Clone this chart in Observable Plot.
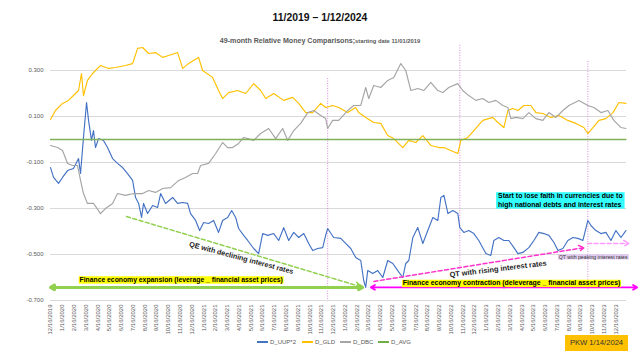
<!DOCTYPE html>
<html><head><meta charset="utf-8">
<script src="https://cdn.jsdelivr.net/npm/d3@7"></script>
<script src="https://cdn.jsdelivr.net/npm/@observablehq/plot@0.6"></script>
<style>
html,body{margin:0;padding:0;background:#fff;}
#wrap{position:relative;width:640px;height:360px;overflow:hidden;background:#fff;font-family:"Liberation Sans",Arial,sans-serif;}
#chart svg{position:absolute;left:0;top:0;}
.t{position:absolute;white-space:nowrap;line-height:1;}
#title{left:0;width:640px;text-align:center;top:13px;font-weight:bold;font-size:10.4px;color:#111;}
#sub{left:0;width:640px;text-align:center;top:30px;color:#595959;}
#sub b{font-size:7.1px;}
#sub span{font-size:5.8px;font-weight:bold;}
.lg{position:absolute;top:338px;font-size:6px;line-height:8px;color:#595959;}
.lg i{display:inline-block;width:11px;height:1.5px;vertical-align:middle;margin-right:2px;margin-top:-1px;}
#pkw{left:565px;top:335px;width:63px;height:16px;background:#ffc000;font-size:7.6px;line-height:16px;text-align:center;color:#333;}
</style></head><body>
<div id="wrap">
  <div id="chart"></div>
  <div class="t" id="title">11/2019 – 1/12/2024</div>
  <div class="t" id="sub"><b>49-month Relative Money Comparisons;</b><span>starting date 11/01/2019</span></div>
  <div class="lg" style="left:257px"><i style="background:#4472c4"></i>D_UUP*2</div>
  <div class="lg" style="left:302px"><i style="background:#ffc000"></i>D_GLD</div>
  <div class="lg" style="left:340px"><i style="background:#a5a5a5"></i>D_DBC</div>
  <div class="lg" style="left:378px"><i style="background:#70ad47"></i>D_AVG</div>
  <div class="t" id="pkw">PKW 1/14/2024</div>
</div>
<script>
// x positions are months since 12/16/2019 (category axis with monthly labels)
const tickLabels = ["12/16/2019",
 "1/16/2020","2/16/2020","3/16/2020","4/16/2020","5/16/2020","6/16/2020","7/16/2020","8/16/2020","9/16/2020","10/16/2020","11/16/2020","12/16/2020",
 "1/16/2021","2/16/2021","3/16/2021","4/16/2021","5/16/2021","6/16/2021","7/16/2021","8/16/2021","9/16/2021","10/16/2021","11/16/2021","12/16/2021",
 "1/16/2022","2/16/2022","3/16/2022","4/16/2022","5/16/2022","6/16/2022","7/16/2022","8/16/2022","9/16/2022","10/16/2022","11/16/2022","12/16/2022",
 "1/16/2023","2/16/2023","3/16/2023","4/16/2023","5/16/2023","6/16/2023","7/16/2023","8/16/2023","9/16/2023","10/16/2023","11/16/2023","12/16/2023"];
const yTicks = [-0.7, -0.5, -0.3, -0.1, 0.1, 0.3];

const uupM = [0,0.26,0.68,1.02,1.45,1.95,2.38,2.55,2.8,3.06,
 3.23,3.48,3.65,3.82,4.08,4.5,4.84,5.27,5.69,6.12,
 6.54,6.97,7.22,7.48,7.73,7.9,8.24,8.67,9.09,9.35,
 9.77,10.37,10.79,11.22,11.64,11.89,12.32,12.66,13,13.42,
 13.85,14.27,14.61,15.04,15.38,15.72,15.97,16.4,16.74,17.25,
 17.67,18.01,18.44,18.95,19.37,19.8,20.22,20.65,21.07,21.5,
 21.92,22.26,22.68,23.11,23.36,23.53,24.04,24.64,25.06,25.49,
 25.91,26.34,26.59,26.76,26.93,27.36,27.78,28.21,28.63,29.06,
 29.48,29.91,30.16,30.42,30.76,31.18,31.61,32.03,32.46,32.88,
 33.14,33.4,33.74,34.16,34.58,34.75,35.09,35.51,35.94,36.36,
 36.96,37.38,37.64,38.06,38.49,38.91,39.34,39.68,40.1,40.61,
 41.04,41.46,41.89,42.31,42.74,43.08,43.5,43.92,44.35,44.77,
 45.2,45.62,45.88,46.3,46.73,47.15,47.58,48,48.43,48.85];
const uupV = [-0.122,-0.165,-0.191,-0.165,-0.135,-0.126,-0.083,-0.148,0.009,0.161,
 0.083,-0.004,0.039,-0.035,0.004,-0.004,-0.035,-0.083,-0.104,-0.122,
 -0.148,-0.178,-0.252,-0.278,-0.339,-0.278,-0.322,-0.287,-0.296,-0.235,
 -0.278,-0.252,-0.278,-0.274,-0.278,-0.322,-0.352,-0.396,-0.361,-0.365,
 -0.352,-0.404,-0.352,-0.339,-0.309,-0.339,-0.387,-0.417,-0.439,-0.474,
 -0.496,-0.409,-0.417,-0.409,-0.439,-0.383,-0.439,-0.404,-0.426,-0.409,
 -0.452,-0.483,-0.474,-0.470,-0.417,-0.387,-0.426,-0.430,-0.452,-0.474,
 -0.513,-0.526,-0.613,-0.643,-0.570,-0.583,-0.570,-0.600,-0.526,-0.539,
 -0.570,-0.600,-0.539,-0.526,-0.426,-0.383,-0.452,-0.396,-0.339,-0.352,
 -0.252,-0.243,-0.322,-0.309,-0.322,-0.383,-0.404,-0.396,-0.409,-0.439,
 -0.496,-0.504,-0.439,-0.426,-0.439,-0.439,-0.470,-0.496,-0.491,-0.470,
 -0.439,-0.404,-0.409,-0.417,-0.448,-0.483,-0.474,-0.439,-0.426,-0.430,
 -0.439,-0.352,-0.374,-0.396,-0.409,-0.404,-0.439,-0.396,-0.426,-0.396];

const gldM = [0,0.42,1.02,1.53,2.12,2.38,2.63,2.8,3.14,3.57,
 4.25,4.93,5.52,6.37,6.97,7.39,7.82,8.33,8.92,9.52,
 10.03,10.79,11.22,11.72,12.57,12.91,13.76,14.27,14.61,15.12,
 15.89,16.57,17.25,17.84,18.27,18.95,19.8,20.56,21.07,21.67,
 22.26,22.94,23.36,23.96,24.47,25.23,25.91,26.17,26.76,27.44,
 28.04,28.63,29.14,29.91,30.42,31.01,31.61,32.29,32.97,33.4,
 33.98,34.58,34.83,35.43,35.94,36.7,37.55,37.98,38.49,38.83,
 39.25,39.68,40.19,40.78,41.21,41.8,42.48,43.16,43.92,44.6,
 45.28,45.62,46.05,46.56,47.15,47.75,48.26,48.85];
const gldV = [0.087,0.126,0.157,0.170,0.200,0.213,0.287,0.191,0.257,0.287,
 0.322,0.309,0.313,0.322,0.330,0.396,0.400,0.374,0.378,0.357,
 0.365,0.378,0.309,0.330,0.357,0.300,0.270,0.213,0.178,0.204,
 0.213,0.200,0.243,0.213,0.178,0.200,0.170,0.183,0.157,0.117,
 0.117,0.157,0.139,0.148,0.139,0.117,0.139,0.117,0.096,0.074,
 0.070,0.017,0.004,-0.035,-0.004,-0.013,0.017,-0.026,-0.035,-0.035,
 -0.048,-0.061,-0.004,0.009,0.039,0.083,0.096,0.074,0.052,0.126,
 0.135,0.126,0.148,0.148,0.117,0.113,0.096,0.104,0.083,0.070,
 0.052,0.026,0.052,0.083,0.091,0.117,0.161,0.157];

const dbcM = [0,0.6,1.02,1.45,1.87,2.29,2.55,2.8,3.14,3.65,
 4.25,4.67,5.27,5.69,6.37,7.05,7.82,8.33,8.92,9.52,
 10.2,10.88,11.47,12.06,12.49,12.74,13.42,14.02,14.61,15.04,
 15.46,15.97,16.4,16.74,17.25,17.84,18.52,19.12,19.71,20.14,
 20.65,21.24,21.84,22.35,22.94,23.36,23.53,23.96,24.47,25.23,
 25.74,26.34,26.76,27.02,27.44,28.04,28.63,29.14,29.74,30.16,
 30.59,31.18,31.69,32.29,32.88,33.31,33.81,34.58,35,35.51,
 36.11,36.7,37.21,37.81,38.4,38.83,39.08,39.51,40.1,40.61,
 41.21,41.8,42.31,42.91,43.5,44.01,44.86,45.62,46.13,46.73,
 47.32,47.83,48.43,48.85];
const dbcV = [-0.026,-0.035,-0.048,-0.104,-0.113,-0.113,-0.178,-0.235,-0.278,-0.278,
 -0.322,-0.300,-0.278,-0.235,-0.243,-0.235,-0.235,-0.222,-0.230,-0.213,
 -0.209,-0.178,-0.165,-0.148,-0.148,-0.113,-0.104,-0.061,-0.013,-0.035,
 -0.035,-0.017,0.009,0.004,-0.004,0.026,0.048,0.004,0.048,-0.004,
 0.039,0.070,0.117,0.126,0.104,0.091,0.048,0.083,0.083,0.126,
 0.148,0.148,0.226,0.178,0.235,0.226,0.257,0.270,0.330,0.300,
 0.213,0.222,0.213,0.248,0.213,0.204,0.226,0.243,0.213,0.191,
 0.170,0.178,0.161,0.170,0.148,0.139,0.091,0.096,0.091,0.117,
 0.091,0.083,0.117,0.096,0.126,0.148,0.170,0.148,0.139,0.117,
 0.126,0.083,0.052,0.048];

const avgM = [0, 48.85];
const avgV = [0, 0];

// annotation anchors (data units: months, value)
const eventLines = [
  {m: 23.53, top: 0.265, bottom: -0.70},
  {m: 34.75, top: 0.409, bottom: -0.57},
  {m: 45.62, top: 0.339, bottom: -0.66}
];
const dashedArrows = [
  {x1: 6.46, y1: -0.335, x2: 26.34, y2: -0.640, c: "#92d050"},
  {x1: 27.46, y1: -0.617, x2: 45.3, y2: -0.470, c: "#ff33cc"},
  {x1: 45.6, y1: -0.452, x2: 49.1, y2: -0.452, c: "#ff99ff"}
];
const spanArrows = [
  {a: 0, b: 26.5, v: -0.643, c: "#92d050", w: 3},
  {a: 27.2, b: 49.8, v: -0.643, c: "#ff00ff", w: 1.8}
];
const notes = [
  {m: 16.2, v: -0.515, t: "QE with declining interest rates", r: 15, s: 7.2},
  {m: 38.0, v: -0.563, t: "QT with rising interest rates", r: -7, s: 7.4}
];
const boxNotes = [
  {m: 11.09, v: -0.607, t: "Finance economy expansion (leverage _ financial asset prices)", s: 6.8, w: "bold", a: "middle", bg: "#ffff00", c: "#000"},
  {m: 39.14, v: -0.622, t: "Finance economy contraction (deleverage _ financial asset prices)", s: 6.9, w: "bold", a: "middle", bg: "#ffff00", c: "#000"},
  {m: 38.0, v: -0.261, t: "Start to lose faith in currencies due to\nhigh national debts and interest rates", s: 6.95, w: "bold", a: "start", bg: "#33ffff", c: "#000"},
  {m: 46.07, v: -0.509, t: "QT with peaking interest rates", s: 5.2, w: "normal", a: "middle", bg: "#e2cdee", c: "#333"}
];

const rows = (ms, vs) => ms.map((m, i) => ({m, v: vs[i]}));
const uup = rows(uupM, uupV), gld = rows(gldM, gldV), dbc = rows(dbcM, dbcV), avg = rows(avgM, avgV);

const spanParts = spanArrows.flatMap(d => {
  const mid = (d.a + d.b) / 2;
  return [{x1: mid, x2: d.a, v: d.v, c: d.c, w: d.w}, {x1: mid, x2: d.b, v: d.v, c: d.c, w: d.w}];
});

const chart = Plot.plot({
  width: 640, height: 360,
  marginLeft: 50, marginRight: 14, marginTop: 24, marginBottom: 60,
  style: {fontFamily: "'Liberation Sans', Arial, sans-serif", fontSize: "6px", color: "#595959", background: "transparent", overflow: "visible"},
  x: {domain: [0, 48.9], ticks: tickLabels.map((d, i) => i), tickFormat: i => tickLabels[i], tickRotate: -90, tickSize: 0, tickPadding: 4, label: null},
  y: {domain: [-0.7, 0.5], ticks: yTicks, tickFormat: d => d.toFixed(3), tickSize: 0, tickPadding: 7, label: null},
  marks: [
    Plot.ruleY(yTicks, {stroke: "#d9d9d9", strokeWidth: 1}),
    Plot.ruleX(eventLines, {x: "m", y1: "top", y2: "bottom", stroke: "#d98ad9", strokeWidth: 1, strokeDasharray: "1,1.5"}),
    Plot.line(uup, {x: "m", y: "v", stroke: "#4472c4", strokeWidth: 1.15}),
    Plot.line(gld, {x: "m", y: "v", stroke: "#ffc000", strokeWidth: 1.15}),
    Plot.line(dbc, {x: "m", y: "v", stroke: "#a5a5a5", strokeWidth: 1.15}),
    Plot.line(avg, {x: "m", y: "v", stroke: "#7fb05a", strokeWidth: 1.4}),
    Plot.arrow(dashedArrows, {x1: "x1", y1: "y1", x2: "x2", y2: "y2", stroke: "c", strokeWidth: 1.5, strokeDasharray: "4,2.5", headLength: 6}),
    Plot.arrow(spanParts, {x1: "x1", y1: "v", x2: "x2", y2: "v", stroke: "c", strokeWidth: "w", headLength: 7}),
    Plot.text(notes, {x: "m", y: "v", text: "t", rotate: "r", fontSize: "s", fontWeight: "bold", fill: "#222", textAnchor: "middle"}),
    ...boxNotes.map(d => Plot.text([d], {x: "m", y: "v", text: "t", fontSize: d.s, fontWeight: d.w, fill: d.c, textAnchor: d.a, lineHeight: 1.3}))
  ]
});
document.getElementById("chart").append(chart);

// highlight boxes behind annotation texts
chart.querySelectorAll("text").forEach(t => {
  const txt = t.textContent;
  const note = boxNotes.find(d => txt.startsWith(d.t.split("\n")[0]));
  if (!note) return;
  const b = t.getBBox();
  const r = document.createElementNS("http://www.w3.org/2000/svg", "rect");
  const px = note.a === "start" ? 2 : 0.8;
  r.setAttribute("x", b.x - px);
  r.setAttribute("y", b.y + 0.3);
  r.setAttribute("width", b.width + 2 * px);
  r.setAttribute("height", b.height - 0.6);
  r.setAttribute("fill", note.bg);
  const tr = t.getAttribute("transform");
  if (tr) r.setAttribute("transform", tr);
  t.parentNode.insertBefore(r, t);
});
</script>
</body></html>
